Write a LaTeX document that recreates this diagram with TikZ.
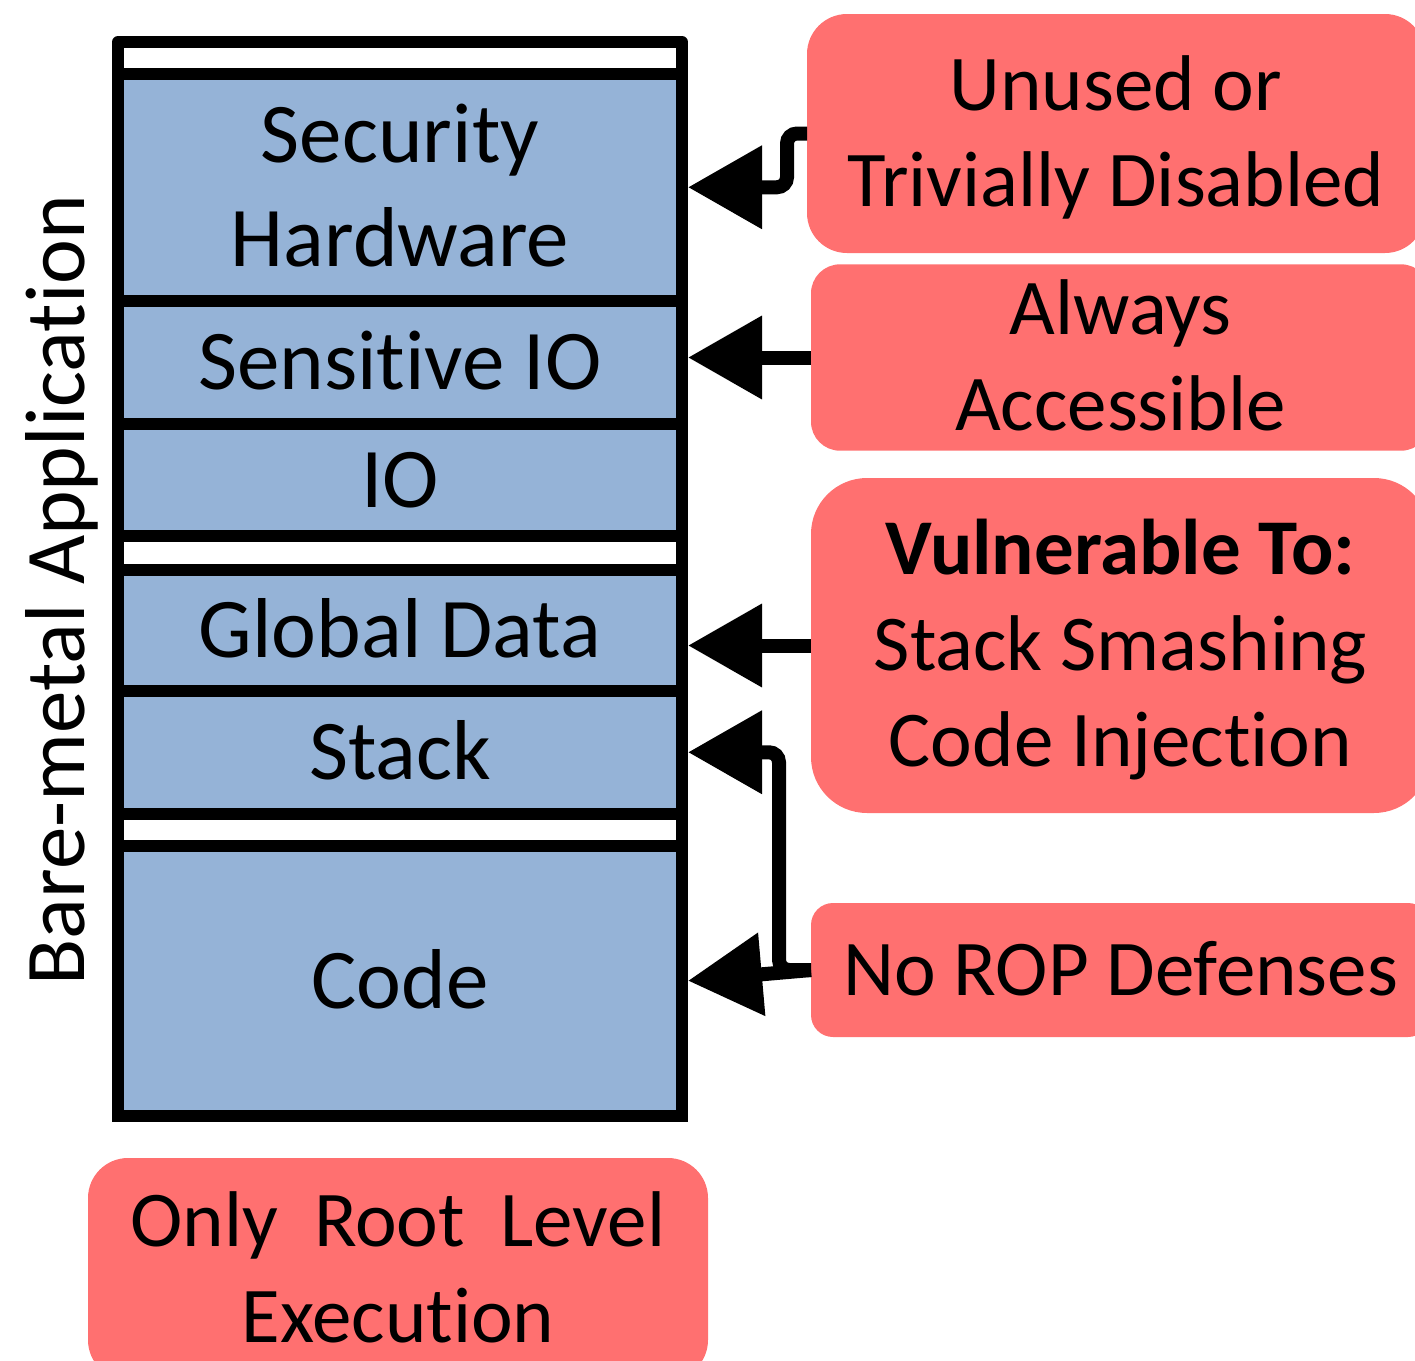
\documentclass[tikz,border=0pt]{standalone}
\usepackage{fontspec}
\setmainfont{Carlito}
\usepackage{tikz}
\usetikzlibrary{arrows.meta}
\definecolor{layerblue}{HTML}{95B3D7}
\definecolor{warnred}{HTML}{FF7070}
\newcommand{\bigtxt}{\fontsize{42.5pt}{52pt}\selectfont}
\newcommand{\redtxt}{\fontsize{39.5pt}{48pt}\selectfont}
\newcommand{\lstrut}{\rule[-0.25em]{0pt}{1.144em}}
\newcommand{\nolig}{\kern0pt }

\begin{document}
\begin{tikzpicture}[x=0.5pt,y=-0.5pt,
  layer/.style={draw,line width=6pt,fill=layerblue,minimum width=282pt,inner sep=0pt,align=center,font=\bigtxt},
  warn/.style={fill=warnred,inner sep=0pt,outer sep=0pt,align=center,font=\redtxt,minimum width=309.5pt,rounded corners=#1},
  conn/.style={line width=7pt,rounded corners=5pt,-{Triangle[length=37pt,width=40pt]}}]
\useasboundingbox (0,0) rectangle (1415,1361);
\clip (0,0) rectangle (1415,1361);
\draw[line width=6pt,line join=round,fill=white] (118,42) rectangle (682,1115.5);
\node[layer,minimum height=113.25pt] (sechw) at (400,187.25) {\lstrut Security\\\lstrut Hardware};
\node[layer,minimum height=61.75pt] (sensio) at (400,362.25) {\lstrut Sensit\nolig ive IO};
\node[layer,minimum height=55.75pt] (io) at (400,479.75) {\lstrut IO};
\node[layer,minimum height=60.75pt] (global) at (400,630.25) {\lstrut Global Data};
\node[layer,minimum height=61.25pt] (stack) at (400,752.25) {\lstrut Stack};
\node[layer,minimum height=134.75pt] (code) at (400,980.75) {\lstrut Code};
\node[rotate=90,font=\bigtxt,inner sep=0pt] (app) at (57,590) {\lstrut Bare-metal Applicat\nolig ion};
\node[warn=20pt,minimum width=309pt,minimum height=119.5pt] (unused) at (1116,133.5) {\lstrut Unused or\\\lstrut Trivially Disabled};
\node[warn=14.5pt,minimum height=87.5pt] (always) at (1120.5,357.5) {\lstrut Always\\\lstrut Accessible};
\node[warn=28pt,minimum height=167.5pt] (vuln) at (1120.5,645.5) {\lstrut\textbf{Vulnerable To:}\\\lstrut Stack Smashing\\\lstrut Code Inject\nolig ion};
\node[warn=11pt,minimum height=67pt] (rop) at (1120.5,970) {\lstrut No ROP Defenses};
\node[warn=20pt,minimum width=310pt,minimum height=111pt] (root) at (398,1269) {\lstrut Only\ \ Root\ \ Level\\\lstrut Execut\nolig ion};
\draw[conn] (unused.west) -- ++(-20,0) |- (sechw.east);
\draw[conn] (always.west) -- (always.west -| sensio.east);
\draw[conn] (vuln.west) -- (vuln.west -| global.east);
\draw[conn] (rop.west) -- ++(-32,0) |- (stack.east);
\draw[conn] (rop.west) -- (code.east);
\end{tikzpicture}
\end{document}
